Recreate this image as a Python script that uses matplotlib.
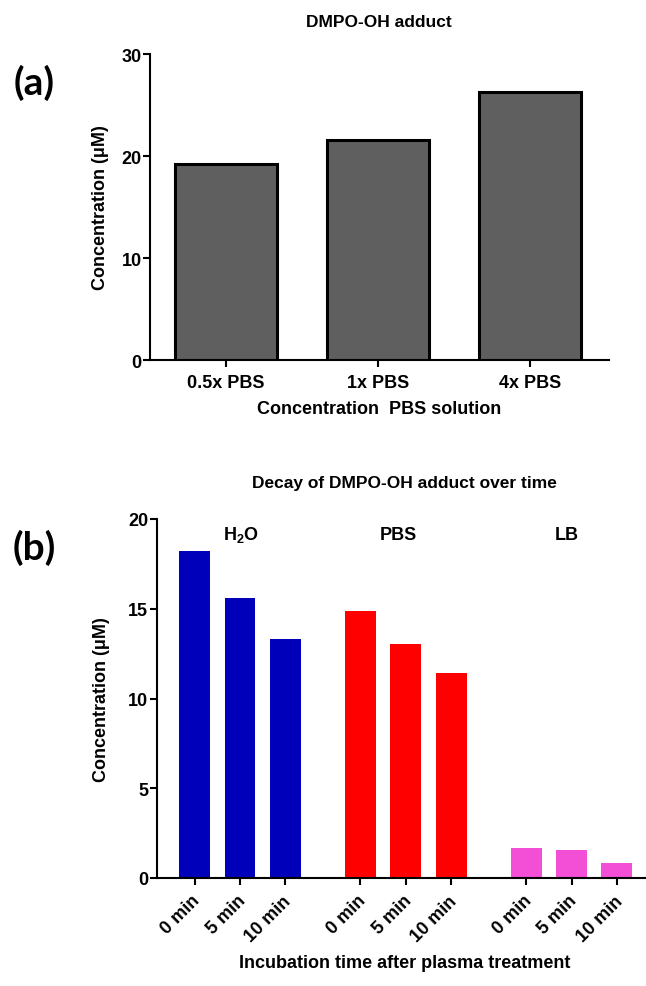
import matplotlib
matplotlib.use("Agg")
import matplotlib.pyplot as plt
from matplotlib.transforms import ScaledTranslation

plt.rcParams["font.family"] = ["Liberation Sans", "DejaVu Sans"]
plt.rcParams["font.weight"] = "bold"
plt.rcParams["mathtext.fontset"] = "custom"
plt.rcParams["mathtext.rm"] = "Liberation Sans:bold"
plt.rcParams["mathtext.bf"] = "Liberation Sans:bold"
plt.rcParams["mathtext.it"] = "Liberation Sans:bold"

# ---- data -------------------------------------------------------------
pbs_labels = ["0.5x PBS", "1x PBS", "4x PBS"]
pbs_conc = [19.25, 21.6, 26.3]

groups = ["H$_2$O", "PBS", "LB"]
times = ["0 min", "5 min", "10 min"]
h2o_conc = [18.24, 15.61, 13.34]
pbs_decay = [14.90, 13.04, 11.40]
lb_conc = [1.66, 1.54, 0.83]
group_colors = ["#0000BB", "#FF0000", "#F34FD6"]

W, H = 646, 987
fig = plt.figure(figsize=(W / 100, H / 100), dpi=100)

FS = 13
LW = 1.5


def style_axes(ax):
    for side in ("top", "right"):
        ax.spines[side].set_visible(False)
    for side in ("left", "bottom"):
        ax.spines[side].set_linewidth(LW)
    ax.tick_params(axis="both", width=LW, length=5, labelsize=FS)
    for lab in ax.get_xticklabels() + ax.get_yticklabels():
        lab.set_fontweight("bold")


# ---- panel (a) ---------------------------------------------------------
ax1 = fig.add_axes([150 / W, 1 - 361 / H, 459 / W, 306 / H])
xa = range(len(pbs_labels))
ax1.bar(xa, pbs_conc, width=0.67, color="#5F5F5F", edgecolor="black",
        linewidth=2.2)
ax1.set_xlim(-0.5, 2.52)
ax1.set_ylim(0, 30)
ax1.set_yticks([0, 10, 20, 30])
ax1.set_xticks(list(xa))
ax1.set_xticklabels(pbs_labels)
style_axes(ax1)
ax1.tick_params(axis="y", pad=1)
ax1.tick_params(axis="x", pad=5)
ax1.set_ylabel("Concentration (μM)", fontsize=FS, fontweight="bold", va="center")
ax1.yaxis.set_label_coords(-0.107, 0.5)
ax1.set_xlabel("Concentration  PBS solution", fontsize=FS, fontweight="bold", va="center")
ax1.xaxis.set_label_coords(0.5, -0.157)
ax1.text(0.499, 1.1046, "DMPO-OH adduct", transform=ax1.transAxes,
         ha="center", va="center", fontsize=12.5, fontweight="bold")

# ---- panel (b) ---------------------------------------------------------
ax2 = fig.add_axes([156.7 / W, 1 - 879 / H, (W - 156.7) / W, 359 / H])
step = 3.65
series = [h2o_conc, pbs_decay, lb_conc]
tick_pos, tick_lab = [], []
for g, (vals, col) in enumerate(zip(series, group_colors)):
    pos = [g * step + i for i in range(len(times))]
    ax2.bar(pos, vals, width=0.68, color=col, linewidth=0)
    tick_pos += pos
    tick_lab += times
ax2.set_xlim(-0.835, 9.94)
ax2.set_ylim(0, 20)
ax2.set_yticks([0, 5, 10, 15, 20])
ax2.set_xticks(tick_pos)
ax2.set_xticklabels(tick_lab, rotation=45, ha="right", va="top",
                    rotation_mode="anchor")
style_axes(ax2)
ax2.tick_params(axis="y", pad=1)
ax2.tick_params(axis="x", pad=5)
shift = ScaledTranslation(-3 / 100, 0, fig.dpi_scale_trans)
for lab in ax2.get_xticklabels():
    lab.set_transform(lab.get_transform() + shift)
ax2.set_ylabel("Concentration (μM)", fontsize=FS, fontweight="bold", va="center")
ax2.yaxis.set_label_coords(-0.112, 0.5)
ax2.set_xlabel("Incubation time after plasma treatment", fontsize=FS,
               fontweight="bold", va="center")
ax2.xaxis.set_label_coords(0.507, -0.234)
ax2.text(0.507, 1.1003, "Decay of DMPO-OH adduct over time",
         transform=ax2.transAxes, ha="center", va="center",
         fontsize=12.5, fontweight="bold")
group_label_x = [1.02, 4.48, 8.2]
for gx, name in zip(group_label_x, groups):
    ax2.text(gx, 0.958, name, transform=ax2.get_xaxis_transform(),
             ha="center", va="center", fontsize=FS, fontweight="bold")

# ---- panel letters -----------------------------------------------------
for letter, yc in (("(a)", 83), ("(b)", 548)):
    fig.text(34 / W, 1 - yc / H, letter, ha="center", va="center",
             fontsize=28, fontweight="bold", family=["Lato", "DejaVu Sans"])

fig.savefig("out.png", dpi=100)
